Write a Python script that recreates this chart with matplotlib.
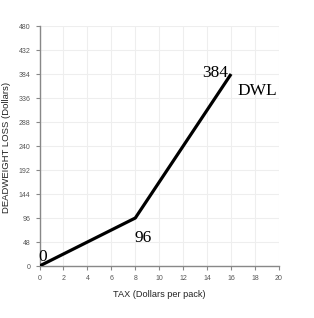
import matplotlib
matplotlib.use('Agg')
import matplotlib.pyplot as plt

# Datos de la curva DWL
tax = [0, 8, 16]
dwl = [0, 96, 384]

x_ticks = list(range(0, 21, 2))
y_ticks = list(range(0, 481, 48))

plt.rcParams['font.family'] = ['Liberation Sans', 'DejaVu Sans']

fig = plt.figure(figsize=(3.14, 3.18), dpi=100)
ax = fig.add_axes([0.1258, 0.1635, 0.7627, 0.7547])

ax.plot(tax, dwl, color='black', linewidth=2.3, solid_capstyle='butt', zorder=3)

# Etiquetas de puntos
serif = ['Liberation Serif', 'DejaVu Serif']
ax.text(-0.12, 10, '0', family=serif, fontsize=12.5, ha='left', va='baseline')
ax.text(7.97, 48, '96', family=serif, fontsize=12.5, ha='left', va='baseline')
ax.text(15.74, 378, '384', family=serif, fontsize=12.5, ha='right', va='baseline')
ax.text(16.49, 342, 'DWL', family=serif, fontsize=12.5, ha='left', va='baseline')

ax.set_xlim(0, 20)
ax.set_ylim(0, 480)
ax.set_xticks(x_ticks)
ax.set_yticks(y_ticks)
ax.tick_params(labelsize=5, colors='#888888', labelcolor='#555555', length=3, width=0.8)
ax.grid(True, color='#eeeeee', linewidth=0.8)
ax.set_axisbelow(True)

for s in ['top', 'right']:
    ax.spines[s].set_visible(False)
for s in ['left', 'bottom']:
    ax.spines[s].set_color('#888888')
    ax.spines[s].set_linewidth(1)

ax.set_xlabel('TAX (Dollars per pack)', fontsize=6.6, color='#222222', labelpad=6)
ax.set_ylabel('DEADWEIGHT LOSS (Dollars)', fontsize=6.8, color='#222222')
ax.yaxis.set_label_coords(-0.119, 0.496)

fig.savefig('out.png', dpi=100)
